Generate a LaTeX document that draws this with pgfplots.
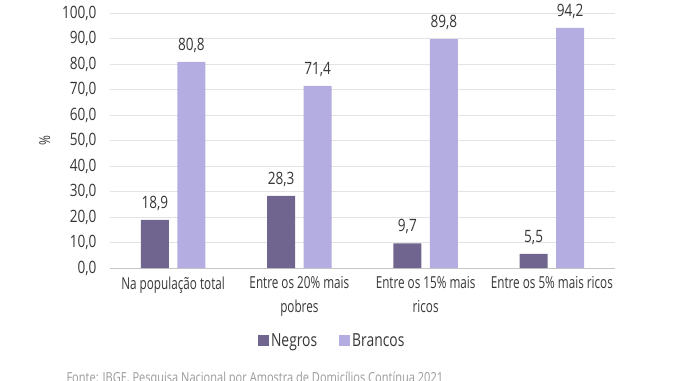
\documentclass[border=0pt]{standalone}
\usepackage{pgfplots}
\pgfplotsset{compat=1.18}
\usepackage{fontspec}
\setmainfont{Open Sans}[FakeStretch=0.80]
\newfontfamily\condA{Open Sans}[FakeStretch=0.71]
\newfontfamily\condB{Open Sans}[FakeStretch=0.77]
\definecolor{neg}{RGB}{112,101,143}
\definecolor{bra}{RGB}{180,173,225}
\definecolor{txt}{RGB}{55,55,55}
\begin{document}
\begin{tikzpicture}[x=1pt,y=1pt]
\begin{axis}[
  at={(110pt,112pt)}, anchor=south west,
  scale only axis, width=505pt, height=255pt,
  xmin=-0.5, xmax=3.5, ymin=0, ymax=100,
  ybar=8.5pt, bar width=28pt,
  axis lines*=left,
  x axis line style={draw=gray!45, line width=0.8pt},
  y axis line style={draw=none},
  major tick length=0pt,
  ytick={0,10,...,100},
  ymajorgrids, grid style={draw=gray!22, line width=0.9pt},
  yticklabel style={font=\fontsize{17}{18}\selectfont, text=txt, xshift=-10pt},
  /pgf/number format/.cd, fixed, fixed zerofill, precision=1, use comma, assume math mode=true,
  /pgfplots/.cd,
  xtick={0,1,2,3},
  xticklabels={Na população total, {Entre os 20\% mais\\pobres}, {Entre os 15\% mais\\ricos}, Entre os 5\% mais ricos},
  xticklabel style={font=\condA\fontsize{16.5}{24}\selectfont, text=txt, align=center, yshift=-5pt},
  ylabel={\%},
  ylabel style={at={(axis description cs:-0.129,0.5)}, anchor=center, font=\fontsize{15}{16}\selectfont, text=txt},
  nodes near coords,
  nodes near coords style={font=\fontsize{17}{18}\selectfont, text=txt, anchor=south, yshift=6pt,
    /pgf/number format/.cd, fixed, fixed zerofill, precision=1, use comma, assume math mode=true},
  legend style={at={(axis description cs:0.44,-0.286)}, anchor=center, draw=none, fill=none,
    legend columns=2, font=\condB\fontsize{18}{20}\selectfont, text=txt,
    /tikz/every even column/.append style={column sep=20pt}},
  legend image code/.code={\fill[#1] (0pt,-5.5pt) rectangle (11pt,5.5pt);},
]
\addplot[fill=neg, draw=none] coordinates {(0,18.9) (1,28.3) (2,9.7) (3,5.5)};
\addplot[fill=bra, draw=none] coordinates {(0,80.8) (1,71.4) (2,89.8) (3,94.2)};
\legend{Negros, Brancos}
\end{axis}
\node[anchor=base west, font=\fontsize{13.8}{15}\selectfont, text=gray!80] at (63,-2.5) {Fonte: IBGE, Pesquisa Nacional por Amostra de Domicílios Contínua 2021};
\pgfresetboundingbox
\useasboundingbox (0,0) rectangle (676,380);
\end{tikzpicture}
\end{document}
